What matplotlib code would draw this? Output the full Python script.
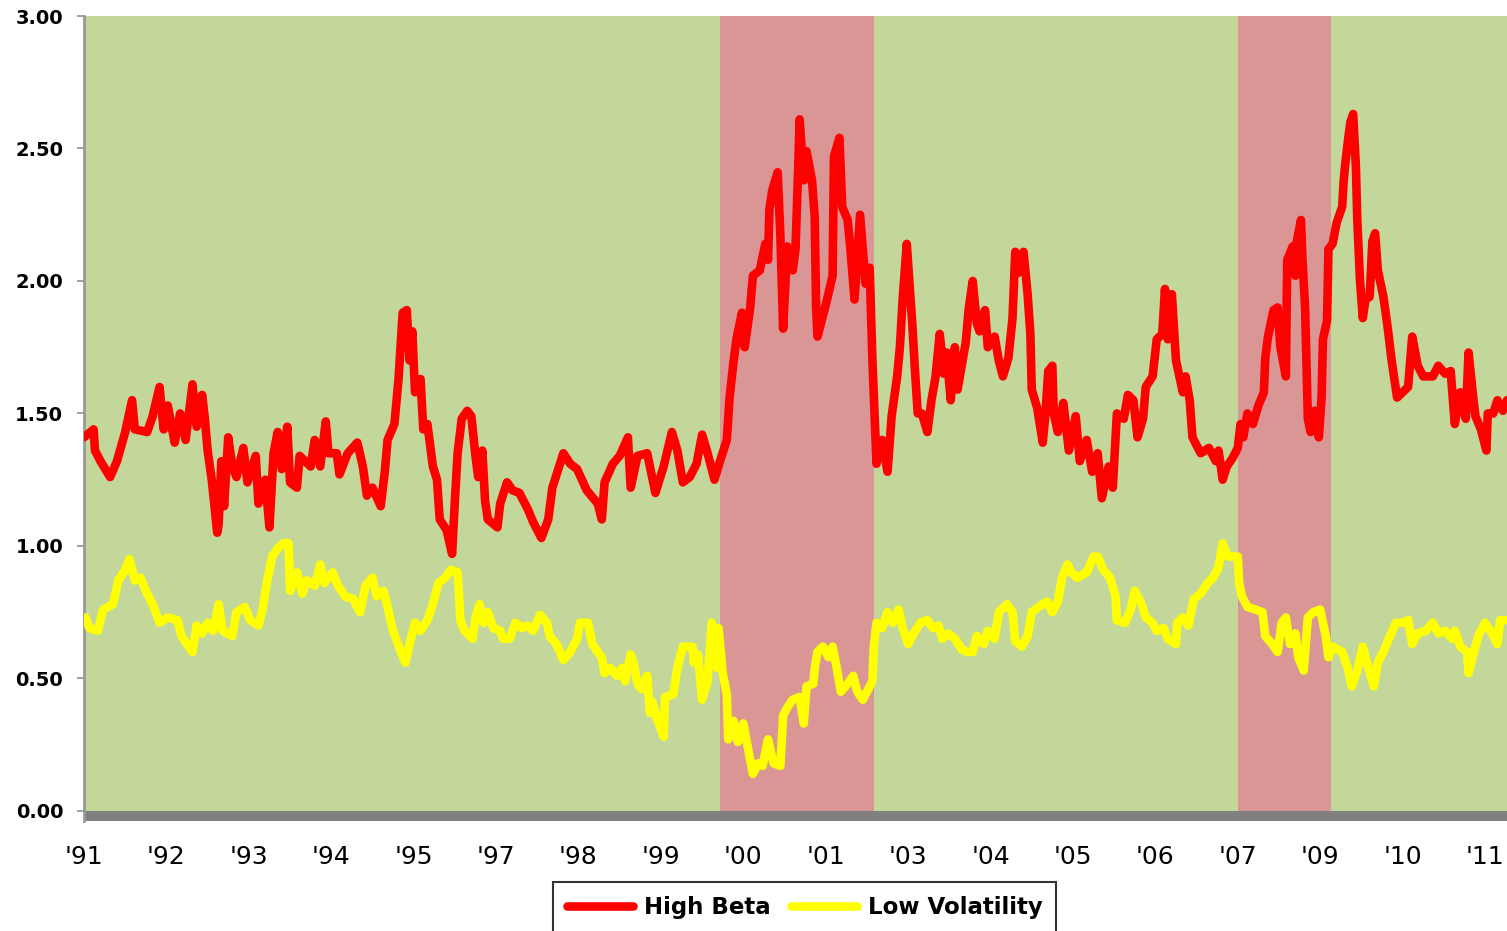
import matplotlib.pyplot as plt

# weekly observations, week 0 = start of 1991
hb_weeks = [0, 7, 8, 12, 19, 24, 30, 35, 37, 46, 50, 55, 58, 61, 66, 70, 74, 79, 82, 86,
            88, 90, 93, 97, 98, 100, 102, 105, 108, 111, 116, 119, 125, 127, 132, 135, 138, 141, 144, 148,
            150, 155, 157, 165, 168, 172, 176, 178, 184, 186, 192, 199, 203, 206, 210, 216, 219, 221, 226, 229,
            232, 235, 237, 239, 241, 245, 247, 250, 254, 257, 259, 264, 268, 270, 272, 275, 279, 282, 285, 287,
            290, 292, 294, 301, 303, 308, 312, 317, 323, 327, 333, 338, 341, 349, 354, 359, 366, 374, 377, 379,
            385, 390, 396, 398, 403, 410, 416, 422, 428, 432, 436, 441, 446, 450, 454, 459, 463, 468, 470, 473,
            475, 479, 481, 485, 487, 492, 496, 498, 499, 501, 505, 507, 509, 512, 516, 518, 520, 521, 524, 526,
            530, 532, 533, 534, 537, 541, 545, 546, 550, 552, 556, 558, 561, 565, 569, 572, 574, 577, 581, 585,
            588, 592, 594, 596, 599, 601, 603, 605, 607, 610, 614, 617, 620, 623, 626, 628, 631, 634, 636, 642,
            644, 647, 650, 652, 656, 658, 663, 666, 669, 673, 676, 678, 680, 684, 687, 689, 690, 694, 698, 700,
            702, 705, 706, 709, 713, 717, 722, 725, 730, 734, 738, 741, 746, 749, 752, 757, 760, 764, 767, 771,
            773, 778, 781, 785, 787, 789, 792, 795, 800, 802, 805, 807, 813, 819, 824, 826, 829, 832, 836, 840,
            842, 844, 847, 851, 855, 859, 860, 862, 866, 869, 871, 875, 876, 880, 882, 883, 886, 887, 889, 891,
            893, 896, 899, 901, 902, 905, 906, 909, 912, 916, 917, 918, 920, 922, 924, 926, 927, 929, 931, 933,
            936, 938, 940, 942, 946, 949, 952, 956, 960, 964, 967, 971, 975, 982, 986, 991, 995, 998, 1002, 1006,
            1008, 1011, 1013, 1017, 1021, 1022, 1026, 1029, 1033, 1036]
high_beta = [1.41, 1.44, 1.36, 1.32, 1.26, 1.32, 1.43, 1.55, 1.44, 1.43, 1.49, 1.60, 1.44, 1.53, 1.39, 1.50, 1.40, 1.61, 1.45, 1.57,
             1.48, 1.36, 1.25, 1.05, 1.08, 1.32, 1.15, 1.41, 1.30, 1.26, 1.37, 1.24, 1.34, 1.16, 1.25, 1.07, 1.35, 1.43, 1.29, 1.45,
             1.24, 1.22, 1.34, 1.30, 1.40, 1.30, 1.47, 1.35, 1.35, 1.27, 1.35, 1.39, 1.30, 1.19, 1.22, 1.15, 1.28, 1.40, 1.46, 1.63,
             1.88, 1.89, 1.70, 1.81, 1.58, 1.63, 1.44, 1.46, 1.30, 1.25, 1.10, 1.06, 0.97, 1.17, 1.35, 1.48, 1.51, 1.49, 1.34, 1.26,
             1.36, 1.17, 1.10, 1.07, 1.16, 1.24, 1.21, 1.20, 1.14, 1.09, 1.03, 1.10, 1.22, 1.35, 1.31, 1.29, 1.21, 1.16, 1.10, 1.24,
             1.31, 1.34, 1.41, 1.22, 1.34, 1.35, 1.20, 1.30, 1.43, 1.36, 1.24, 1.26, 1.31, 1.42, 1.35, 1.25, 1.32, 1.40, 1.56, 1.70,
             1.78, 1.88, 1.75, 1.90, 2.02, 2.04, 2.14, 2.08, 2.27, 2.34, 2.41, 2.17, 1.82, 2.13, 2.04, 2.12, 2.43, 2.61, 2.38, 2.49,
             2.38, 2.24, 1.90, 1.79, 1.85, 1.93, 2.02, 2.47, 2.54, 2.28, 2.23, 2.12, 1.93, 2.25, 1.99, 2.05, 1.70, 1.31, 1.40, 1.28,
             1.49, 1.64, 1.75, 1.93, 2.14, 1.99, 1.84, 1.66, 1.50, 1.50, 1.43, 1.55, 1.64, 1.80, 1.65, 1.73, 1.55, 1.75, 1.59, 1.77,
             1.89, 2.00, 1.84, 1.81, 1.89, 1.75, 1.79, 1.70, 1.64, 1.71, 1.86, 2.11, 2.03, 2.11, 1.95, 1.80, 1.59, 1.52, 1.39, 1.50,
             1.66, 1.68, 1.50, 1.43, 1.54, 1.36, 1.49, 1.32, 1.40, 1.28, 1.35, 1.18, 1.30, 1.22, 1.50, 1.48, 1.57, 1.55, 1.41, 1.48,
             1.60, 1.64, 1.78, 1.80, 1.97, 1.78, 1.95, 1.70, 1.58, 1.64, 1.55, 1.41, 1.35, 1.37, 1.32, 1.36, 1.25, 1.30, 1.33, 1.37,
             1.46, 1.41, 1.50, 1.46, 1.53, 1.58, 1.71, 1.79, 1.89, 1.90, 1.75, 1.64, 2.08, 2.13, 2.02, 2.15, 2.23, 2.09, 1.90, 1.48,
             1.43, 1.51, 1.41, 1.56, 1.78, 1.85, 2.12, 2.14, 2.22, 2.28, 2.37, 2.43, 2.52, 2.60, 2.63, 2.43, 2.23, 2.00, 1.86, 1.93,
             1.94, 2.15, 2.18, 2.04, 1.94, 1.83, 1.70, 1.56, 1.58, 1.60, 1.79, 1.68, 1.64, 1.64, 1.68, 1.65, 1.66, 1.46, 1.58, 1.48,
             1.73, 1.58, 1.49, 1.44, 1.36, 1.50, 1.50, 1.55, 1.51, 1.55]

lv_weeks = [1, 4, 10, 14, 21, 25, 30, 33, 37, 41, 46, 50, 55, 61, 68, 71, 79, 82, 86, 90,
            94, 98, 101, 108, 111, 117, 121, 127, 130, 133, 137, 141, 145, 149, 150, 155, 159, 162, 168, 172,
            175, 181, 185, 190, 196, 201, 205, 210, 213, 218, 221, 225, 230, 234, 237, 241, 245, 250, 254, 258,
            263, 267, 272, 273, 274, 277, 283, 285, 288, 291, 294, 298, 303, 305, 310, 314, 319, 323, 327, 332,
            337, 339, 344, 349, 354, 359, 361, 367, 370, 374, 377, 379, 383, 388, 392, 394, 398, 400, 403, 406,
            410, 412, 414, 417, 422, 423, 429, 432, 436, 443, 444, 447, 450, 454, 457, 461, 462, 465, 468, 469,
            473, 476, 480, 484, 487, 491, 494, 498, 502, 507, 509, 512, 516, 521, 524, 526, 531, 532, 534, 538,
            542, 545, 548, 551, 556, 560, 563, 567, 571, 574, 575, 577, 581, 585, 589, 593, 596, 600, 604, 609,
            614, 618, 622, 625, 629, 634, 639, 643, 647, 650, 655, 658, 663, 666, 672, 676, 678, 683, 687, 690,
            695, 701, 705, 709, 712, 716, 719, 723, 730, 735, 738, 742, 747, 751, 752, 758, 762, 765, 770, 773,
            778, 781, 786, 789, 795, 796, 800, 804, 808, 813, 818, 822, 826, 829, 831, 833, 840, 841, 843, 847,
            853, 858, 860, 865, 869, 872, 875, 878, 882, 884, 888, 891, 895, 900, 904, 906, 909, 916, 920, 923,
            927, 931, 934, 939, 942, 946, 950, 955, 960, 964, 967, 971, 977, 982, 986, 991, 996, 998, 1002, 1007,
            1008, 1011, 1015, 1020, 1024, 1029, 1031, 1035]
low_vol = [0.73, 0.69, 0.68, 0.76, 0.78, 0.87, 0.91, 0.95, 0.87, 0.88, 0.82, 0.78, 0.71, 0.73, 0.72, 0.66, 0.60, 0.70, 0.67, 0.71,
           0.68, 0.78, 0.68, 0.66, 0.75, 0.77, 0.72, 0.70, 0.76, 0.86, 0.96, 0.99, 1.01, 1.01, 0.83, 0.90, 0.82, 0.87, 0.85, 0.93,
           0.86, 0.90, 0.85, 0.81, 0.80, 0.75, 0.85, 0.88, 0.81, 0.83, 0.77, 0.68, 0.61, 0.56, 0.63, 0.71, 0.68, 0.72, 0.78, 0.86,
           0.88, 0.91, 0.90, 0.82, 0.72, 0.68, 0.65, 0.73, 0.78, 0.71, 0.75, 0.69, 0.68, 0.65, 0.65, 0.71, 0.69, 0.70, 0.68, 0.74,
           0.71, 0.66, 0.63, 0.57, 0.60, 0.65, 0.71, 0.71, 0.63, 0.60, 0.58, 0.52, 0.54, 0.51, 0.54, 0.49, 0.59, 0.56, 0.48, 0.46,
           0.51, 0.37, 0.41, 0.35, 0.28, 0.43, 0.44, 0.54, 0.62, 0.62, 0.56, 0.59, 0.42, 0.49, 0.71, 0.54, 0.69, 0.52, 0.44, 0.27,
           0.34, 0.26, 0.33, 0.22, 0.14, 0.18, 0.17, 0.27, 0.18, 0.17, 0.36, 0.39, 0.42, 0.43, 0.33, 0.47, 0.48, 0.54, 0.60, 0.62,
           0.58, 0.62, 0.54, 0.45, 0.48, 0.51, 0.45, 0.42, 0.46, 0.49, 0.62, 0.71, 0.69, 0.75, 0.71, 0.76, 0.69, 0.63, 0.67, 0.71,
           0.72, 0.69, 0.70, 0.65, 0.67, 0.65, 0.61, 0.60, 0.60, 0.66, 0.63, 0.68, 0.65, 0.75, 0.78, 0.75, 0.64, 0.62, 0.66, 0.75,
           0.77, 0.79, 0.75, 0.79, 0.88, 0.93, 0.90, 0.88, 0.90, 0.96, 0.96, 0.91, 0.88, 0.81, 0.72, 0.71, 0.76, 0.83, 0.78, 0.73,
           0.71, 0.68, 0.69, 0.65, 0.63, 0.71, 0.73, 0.70, 0.80, 0.82, 0.86, 0.88, 0.92, 1.01, 0.98, 0.96, 0.96, 0.86, 0.81, 0.77,
           0.76, 0.75, 0.66, 0.63, 0.60, 0.71, 0.73, 0.63, 0.67, 0.58, 0.53, 0.73, 0.75, 0.76, 0.66, 0.58, 0.62, 0.60, 0.54, 0.47,
           0.53, 0.62, 0.56, 0.47, 0.56, 0.60, 0.65, 0.71, 0.71, 0.72, 0.63, 0.67, 0.68, 0.71, 0.67, 0.68, 0.65, 0.68, 0.62, 0.60,
           0.52, 0.58, 0.66, 0.71, 0.68, 0.63, 0.72, 0.72]

# shaded periods (start week, end week)
bear_periods = [(463, 575), (840, 908)]

tick_weeks = list(range(0, 1021, 60))
tick_labels = ["'91", "'92", "'93", "'94", "'95", "'97", "'98", "'99", "'00",
               "'01", "'03", "'04", "'05", "'06", "'07", "'09", "'10", "'11"]
y_ticks = [0.0, 0.5, 1.0, 1.5, 2.0, 2.5, 3.0]

fig = plt.figure(figsize=(15.07, 9.31), dpi=100)
ax = fig.add_axes([84 / 1507, 110 / 931, 1423 / 1507, 805 / 931])
ax.set_facecolor('#C4D79B')

for start, end in bear_periods:
    ax.axvspan(start, end, color='#DA9694', lw=0, zorder=0.5)
ax.axhspan(-0.038, 0, color='#808080', lw=0, zorder=1)

ax.plot(hb_weeks, high_beta, color='#FF0000', lw=6.2, solid_joinstyle='round',
        solid_capstyle='round', label='High Beta', zorder=3)
ax.plot(lv_weeks, low_vol, color='#FFFF00', lw=6.2, solid_joinstyle='round',
        solid_capstyle='round', label='Low Volatility', zorder=3)

ax.set_xlim(0, 1036)
ax.set_ylim(-0.038, 3.0)

ax.set_yticks(y_ticks)
ax.set_yticklabels(['%.2f' % v for v in y_ticks], fontsize=14, fontweight='bold')
ax.tick_params(axis='y', length=5, width=1.3, color='#999999', pad=10)

ax.set_xticks(tick_weeks)
ax.set_xticklabels(tick_labels, fontsize=18)
ax.tick_params(axis='x', length=0, pad=17)

for side in ['top', 'right', 'bottom']:
    ax.spines[side].set_visible(False)
ax.spines['left'].set_color('#999999')
ax.spines['left'].set_linewidth(2)

leg = fig.legend(loc='upper center', bbox_to_anchor=(0.534, 1 - 882 / 931), ncol=2,
                 frameon=True, fancybox=False, edgecolor='black', borderaxespad=0,
                 prop={'weight': 'bold', 'size': 16.5}, handlelength=2.9,
                 handletextpad=0.45, columnspacing=0.9, borderpad=0.6)
leg.get_frame().set_linewidth(1.5)

fig.savefig('out.png', dpi=100)
